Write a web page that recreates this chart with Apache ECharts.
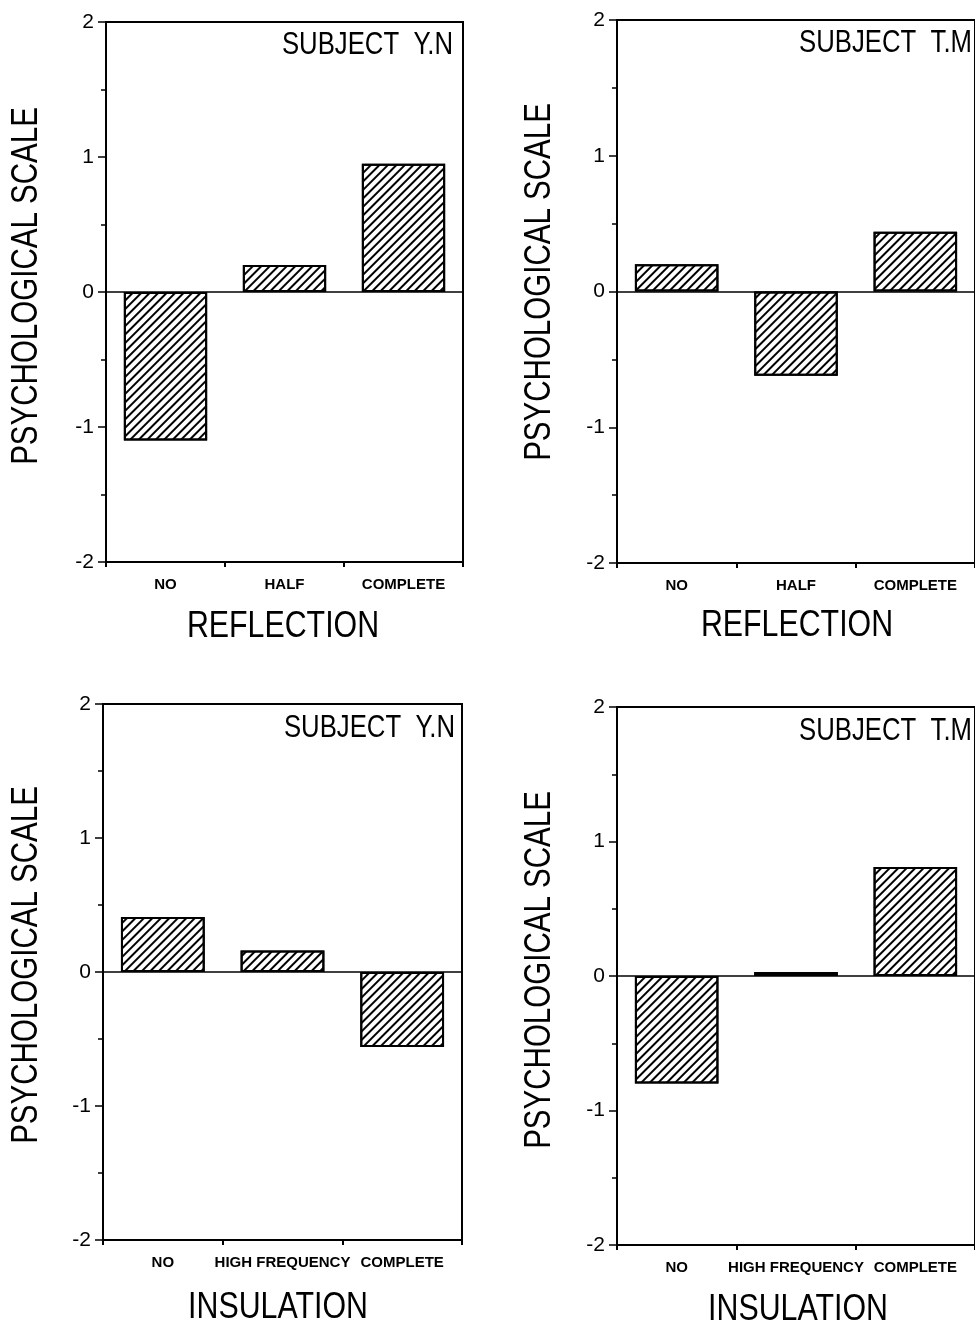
<!DOCTYPE html>
<html>
<head>
<meta charset="utf-8">
<script src="https://cdn.jsdelivr.net/npm/echarts@6/dist/echarts.min.js"></script>
<style>
	html, body { margin: 0; padding: 0; background: #fff; }
	#main { width: 975px; height: 1324px; }
</style>
</head>
<body>
<div id="main"></div>
<script>
// 横轴类别
var reflectionCats = ['NO', 'HALF', 'COMPLETE'];
var insulationCats = ['NO', 'HIGH FREQUENCY', 'COMPLETE'];

// 心理量表数值
var reflectionYN = [-1.1, 0.2, 0.95];
var reflectionTM = [0.2, -0.62, 0.44];
var insulationYN = [0.41, 0.16, -0.56];
var insulationTM = [-0.8, 0.03, 0.81];

// 面板文字
var subjects = ['SUBJECT  Y.N', 'SUBJECT  T.M', 'SUBJECT  Y.N', 'SUBJECT  T.M'];
var axisNames = ['REFLECTION', 'REFLECTION', 'INSULATION', 'INSULATION'];
var yName = 'PSYCHOLOGICAL SCALE';

var plain = "'Liberation Sans', Arial, sans-serif";

var chart = echarts.init(document.getElementById('main'));

// 四个面板的位置
var grids = [
	{ left: 106, top: 22, width: 357, height: 540 },
	{ left: 617, top: 20, width: 366, height: 543 },
	{ left: 103, top: 704, width: 359, height: 536 },
	{ left: 617, top: 707, width: 366, height: 538 }
];
// 文字位置 (窄体用 scaleX 压缩)
var subjectPos = [[453, 45], [972, 43], [455, 728], [972, 731]];
var xNamePos = [[283, 627], [797, 626], [278, 1308], [798, 1310]];
var yNamePos = [[27, 286], [540, 282], [27, 965], [540, 970]];

var cats = [reflectionCats, reflectionCats, insulationCats, insulationCats];
var values = [reflectionYN, reflectionTM, insulationYN, insulationTM];

var option = {
	backgroundColor: '#fff',
	animation: false,
	grid: [],
	xAxis: [],
	yAxis: [],
	series: [],
	graphic: []
};

for (var i = 0; i < 4; i++) {
	option.grid.push({
		left: grids[i].left,
		top: grids[i].top,
		width: grids[i].width,
		height: grids[i].height,
		show: true,
		borderColor: '#000',
		borderWidth: 2,
		backgroundColor: 'transparent'
	});
	option.xAxis.push({
		type: 'category',
		gridIndex: i,
		data: cats[i],
		axisLine: { onZero: false, lineStyle: { color: '#000', width: 2 } },
		axisTick: { show: true, length: 5, lineStyle: { color: '#000', width: 2 } },
		axisLabel: {
			interval: 0,
			hideOverlap: false,
			margin: 15,
			color: '#000',
			fontFamily: plain,
			fontWeight: 'bold',
			fontSize: 15
		},
		splitLine: { show: false }
	});
	option.yAxis.push({
		type: 'value',
		gridIndex: i,
		min: -2,
		max: 2,
		interval: 1,
		axisLine: { show: true, lineStyle: { color: '#000', width: 2 } },
		axisTick: { show: true, length: 8, lineStyle: { color: '#000', width: 1.5 } },
		minorTick: { show: true, splitNumber: 2, length: 5, lineStyle: { color: '#000', width: 1.5 } },
		axisLabel: { margin: 12, color: '#000', fontFamily: plain, fontSize: 21 },
		splitLine: { show: false }
	});
	option.series.push({
		type: 'bar',
		xAxisIndex: i,
		yAxisIndex: i,
		data: values[i],
		barWidth: '70%',
		itemStyle: {
			color: '#fff',
			borderColor: '#000',
			borderWidth: 2,
			decal: {
				symbol: 'rect',
				symbolSize: 1,
				color: '#000',
				dashArrayX: [1, 0],
				dashArrayY: [1.2, 3.3],
				rotation: -Math.PI / 4
			}
		},
		// 零线
		markLine: {
			silent: true,
			symbol: 'none',
			label: { show: false },
			lineStyle: { color: '#000', type: 'solid', width: 1.5 },
			data: [{ yAxis: 0 }]
		}
	});

	// SUBJECT 标注
	option.graphic.push({
		type: 'text',
		x: subjectPos[i][0],
		y: subjectPos[i][1],
		scaleX: 0.83,
		silent: true,
		style: { text: subjects[i], fontFamily: plain, fontSize: 31, fill: '#000', align: 'right', verticalAlign: 'middle' }
	});
	// 横轴标题
	option.graphic.push({
		type: 'text',
		x: xNamePos[i][0],
		y: xNamePos[i][1],
		scaleX: 0.82,
		silent: true,
		style: { text: axisNames[i], fontFamily: plain, fontSize: 37, fill: '#000', align: 'center', verticalAlign: 'middle' }
	});
	// 纵轴标题
	option.graphic.push({
		type: 'text',
		x: yNamePos[i][0],
		y: yNamePos[i][1],
		rotation: Math.PI / 2,
		scaleX: 0.82,
		silent: true,
		style: { text: yName, fontFamily: plain, fontSize: 36, fill: '#000', align: 'center', verticalAlign: 'middle' }
	});
}

chart.setOption(option);
</script>
</body>
</html>
